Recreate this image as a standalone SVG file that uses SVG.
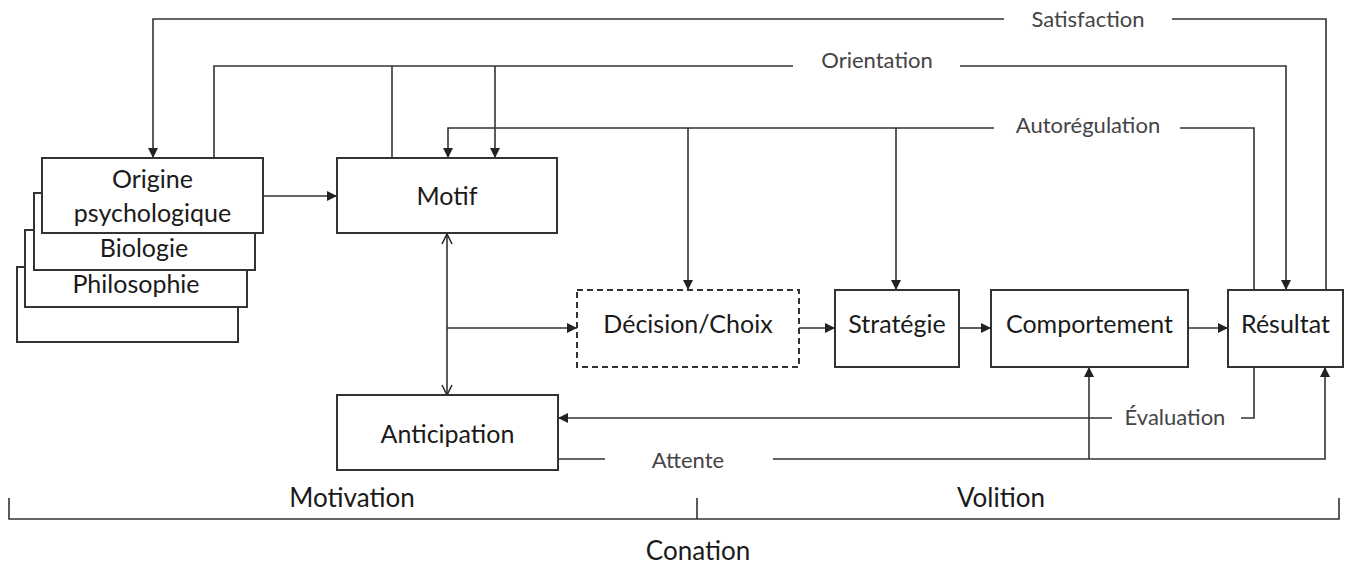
<svg xmlns="http://www.w3.org/2000/svg" width="1347" height="564" viewBox="0 0 1347 564">
<style>
.box{fill:#fff;stroke:#333;stroke-width:2}
.dash{fill:#fff;stroke:#333;stroke-width:2;stroke-dasharray:6 4}
.ln{fill:none;stroke:#333;stroke-width:1.6}
.t{font-family:Lato,"Liberation Sans",sans-serif;font-size:25px;fill:#1a1a1a;text-anchor:middle}
.s{font-family:Lato,"Liberation Sans",sans-serif;font-size:22px;fill:#444;text-anchor:middle}
.b{font-family:Lato,"Liberation Sans",sans-serif;font-size:26px;fill:#1a1a1a;text-anchor:middle}
</style>
<defs>
<marker id="ah" viewBox="0 0 10 10" refX="10" refY="5" markerWidth="10" markerHeight="10" markerUnits="userSpaceOnUse" orient="auto">
<path d="M0,0 L10,5 L0,10 z" fill="#222"/>
</marker>
<marker id="oh" viewBox="0 0 12 12" refX="11" refY="6" markerWidth="12" markerHeight="12" markerUnits="userSpaceOnUse" orient="auto-start-reverse">
<path d="M1,1 L11,6 L1,11" fill="none" stroke="#222" stroke-width="1.5"/>
</marker>
</defs>
<rect width="1347" height="564" fill="#fff"/>

<g id="connectors">
<path class="ln" d="M1326,290 V19 H1172"/>
<path class="ln" d="M1004,19 H153 V158" marker-end="url(#ah)"/>
<path class="ln" d="M214,158 V66 H793"/>
<path class="ln" d="M960,66 H1286 V290" marker-end="url(#ah)"/>
<path class="ln" d="M392,158 V66"/>
<path class="ln" d="M495,66 V158" marker-end="url(#ah)"/>
<path class="ln" d="M1254,290 V128 H1180"/>
<path class="ln" d="M994,128 H448 V158" marker-end="url(#ah)"/>
<path class="ln" d="M688,128 V290" marker-end="url(#ah)"/>
<path class="ln" d="M896,128 V290" marker-end="url(#ah)"/>
<path class="ln" d="M263,196 H337" marker-end="url(#ah)"/>
<path class="ln" d="M447,234 V395" marker-start="url(#oh)" marker-end="url(#oh)"/>
<path class="ln" d="M447,328 H577" marker-end="url(#ah)"/>
<path class="ln" d="M799,328 H835" marker-end="url(#ah)"/>
<path class="ln" d="M959,328 H991" marker-end="url(#ah)"/>
<path class="ln" d="M1188,328 H1228" marker-end="url(#ah)"/>
<path class="ln" d="M1254,367 V418 H1241"/>
<path class="ln" d="M1112,418 H558" marker-end="url(#ah)"/>
<path class="ln" d="M558,459 H605"/>
<path class="ln" d="M773,459 H1325 V367" marker-end="url(#ah)"/>
<path class="ln" d="M1089,459 V367" marker-end="url(#ah)"/>
<text class="s" x="1088" y="27">Satisfaction</text>
<text class="s" x="877" y="68">Orientation</text>
<text class="s" x="1088" y="133">Autorégulation</text>
<text class="s" x="1175" y="425">Évaluation</text>
<text class="s" x="688" y="468">Attente</text>
</g>

<g id="node-origine">
<rect class="box" x="17" y="267" width="221" height="75"/>
<rect class="box" x="25" y="230" width="222" height="77"/>
<text class="t" x="136" y="293">Philosophie</text>
<rect class="box" x="34" y="193" width="221" height="77"/>
<text class="t" x="144" y="257">Biologie</text>
<rect class="box" x="42" y="158" width="221" height="75"/>
<text class="t" x="152.5" y="188">Origine</text>
<text class="t" x="152.5" y="222">psychologique</text>
</g>
<g id="node-motif">
<rect class="box" x="337" y="158" width="220" height="75"/>
<text class="t" x="447" y="205">Motif</text>
</g>
<g id="node-decision">
<rect class="dash" x="577" y="290" width="222" height="77"/>
<text class="t" x="688" y="333">Décision/Choix</text>
</g>
<g id="node-strategie">
<rect class="box" x="835" y="290" width="124" height="77"/>
<text class="t" x="897" y="333">Stratégie</text>
</g>
<g id="node-comportement">
<rect class="box" x="991" y="290" width="197" height="77"/>
<text class="t" x="1089.5" y="333">Comportement</text>
</g>
<g id="node-resultat">
<rect class="box" x="1228" y="290" width="115" height="77"/>
<text class="t" x="1285.5" y="333">Résultat</text>
</g>
<g id="node-anticipation">
<rect class="box" x="337" y="395" width="221" height="75"/>
<text class="t" x="447.5" y="443">Anticipation</text>
</g>
<g id="bracket">
<path class="ln" d="M9,498 V519 H1339 V498 M697,498 V519"/>
<text class="b" x="352" y="507">Motivation</text>
<text class="b" x="1001" y="507">Volition</text>
<text class="b" x="698" y="560">Conation</text>
</g>
</svg>
